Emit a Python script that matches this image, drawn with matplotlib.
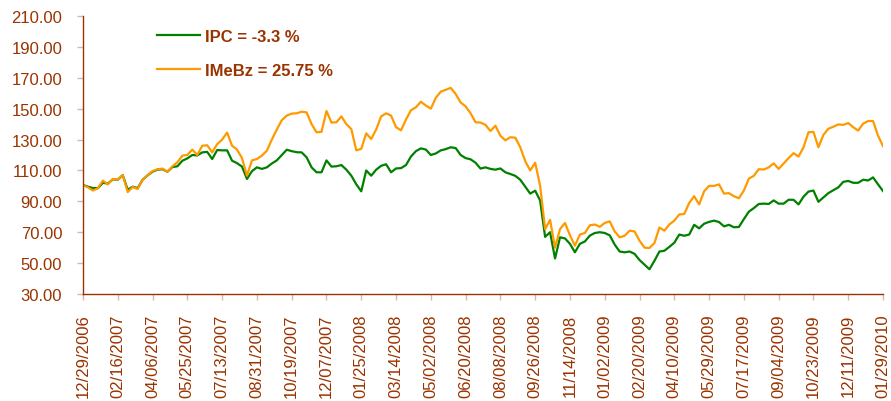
import numpy as np
import pandas as pd
import matplotlib
matplotlib.use('Agg')
import matplotlib.pyplot as plt
import matplotlib.dates as mdates

plt.rcParams['font.family'] = ['Liberation Sans', 'DejaVu Sans']

# weekly closes (fridays), base 100 on 12/29/2006
dates = pd.date_range('2006-12-29', '2010-01-29', freq='W-FRI')

ipc = [
    100.6, 99.5, 98.6, 98.5, 102, 101.5, 104.2, 104, 107, 97.5,
    99.5, 98.5, 104, 106.8, 109.2, 110.5, 110.8, 109.2, 112.2, 112.7,
    116.3, 117.8, 120, 119.7, 121.7, 122, 117.4, 123.2, 123, 123,
    116.3, 114.7, 112.5, 104.5, 109.5, 112, 111, 112, 114.5, 116.5,
    120, 123.4, 122.5, 121.8, 121.7, 118.5, 112, 108.8, 108.8, 116.5,
    112.5, 112.7, 113.5, 110.5, 106.6, 101, 96.5, 110, 106.6, 110.5,
    113, 114, 108.8, 111.3, 111.5, 113.5, 119, 122.5, 124.3, 123.5,
    120, 121, 123, 123.8, 125, 124.5, 120, 118, 117.2, 115,
    111.2, 112, 111, 110.5, 111.3, 108.8, 107.7, 106.5, 104, 99.5,
    95, 96.9, 90.5, 67, 70, 53, 66.7, 66, 62.5, 57,
    62.5, 64, 67.8, 69.5, 70, 69.5, 68, 62, 57.5, 57,
    57.5, 56, 52, 49, 46, 51.5, 57.5, 58, 60.5, 63.2,
    68.5, 67.7, 68.5, 74.8, 72.5, 75.5, 76.7, 77.5, 76.6, 73.8,
    74.8, 73.2, 73.4, 78.5, 83.3, 85.6, 88.3, 88.5, 88.3, 90.6,
    88.5, 88.5, 91, 91, 88, 93, 96.3, 97, 89.7, 92.5,
    95.3, 97.2, 99, 102.6, 103.2, 102, 102, 104, 103.5, 105.5,
    101, 96.7,
]

imebz = [
    100.6, 99, 97, 98.5, 103.4, 101, 104.5, 104, 107, 96,
    99.3, 98, 104, 107, 109.6, 110.8, 111.2, 109.2, 112.7, 115.3,
    119.6, 120, 123.5, 120, 126, 126.3, 121.7, 127, 130, 134.5,
    126, 123.5, 118, 106.6, 116.5, 117.4, 119.6, 122.8, 130, 136.5,
    142.5, 145.5, 146.8, 147, 148, 147.6, 140, 134.7, 135, 148.5,
    141, 141.2, 145, 140, 136.8, 123, 124, 134, 130.4, 136.5,
    145, 147, 145.5, 138, 136, 143, 149, 150.9, 154.5, 152,
    150, 157, 161, 162.2, 163.5, 159.5, 154, 151.5, 147, 141.2,
    141, 139.5, 135.5, 139, 132.5, 129.5, 131.5, 131.2, 125, 116,
    110, 115, 100, 72, 78, 60, 72, 76, 68, 61.3,
    68.5, 69.5, 74.5, 75, 73.5, 76, 77, 70.5, 66.7, 67.7,
    71, 70.5, 64.5, 60, 59.8, 63, 73, 71, 75, 77.5,
    81.5, 81.8, 89, 93.3, 88, 96.5, 100, 100, 101, 95,
    95.3, 93.3, 92, 97, 104.7, 106.5, 110.8, 110.6, 112, 114.6,
    111, 114.5, 118, 121.2, 119, 125, 134.7, 135, 125, 133,
    137, 138.3, 139.8, 139.5, 140.7, 138, 135.8, 140.3, 142, 142,
    132.5, 125.75,
]

tick_dates = pd.date_range('2006-12-29', '2010-01-29', freq='49D')

brown = '#993300'

fig = plt.figure(figsize=(8.91, 4.02), dpi=100)
ax = fig.add_axes([83 / 891, 1 - 295 / 402, 800 / 891, 278 / 402])

ax.plot(dates, ipc, color='#008000', linewidth=1.6, label='IPC = -3.3 %')
ax.plot(dates, imebz, color='#FF9900', linewidth=1.6, label='IMeBz = 25.75 %')

ax.set_xlim(dates[0], dates[-1])
ax.set_ylim(30, 210)
ax.set_yticks(np.arange(30, 211, 20))
ax.yaxis.set_major_formatter(matplotlib.ticker.FormatStrFormatter('%.2f'))
ax.set_xticks(tick_dates)
ax.xaxis.set_major_formatter(mdates.DateFormatter('%m/%d/%Y'))
plt.setp(ax.get_xticklabels(), rotation=90)

for side in ['top', 'right']:
    ax.spines[side].set_visible(False)
for side in ['left', 'bottom']:
    ax.spines[side].set_color(brown)
    ax.spines[side].set_linewidth(1.0)

ax.tick_params(axis='y', length=4, width=1, color='#D9B8A8', labelsize=12,
               labelcolor=brown, pad=11)
ax.tick_params(axis='x', length=4, width=1, color='#D9B8A8', labelsize=12,
               labelcolor=brown, pad=10)

leg = ax.legend(loc='upper left', bbox_to_anchor=(157 / 891, 1 - 30 / 402),
                bbox_transform=fig.transFigure, frameon=False, borderpad=0,
                borderaxespad=0, handlelength=2.6, handletextpad=0.3,
                labelspacing=1.15, prop={'weight': 'bold', 'size': 12},
                labelcolor=brown)

fig.savefig('out.png', dpi=100)
